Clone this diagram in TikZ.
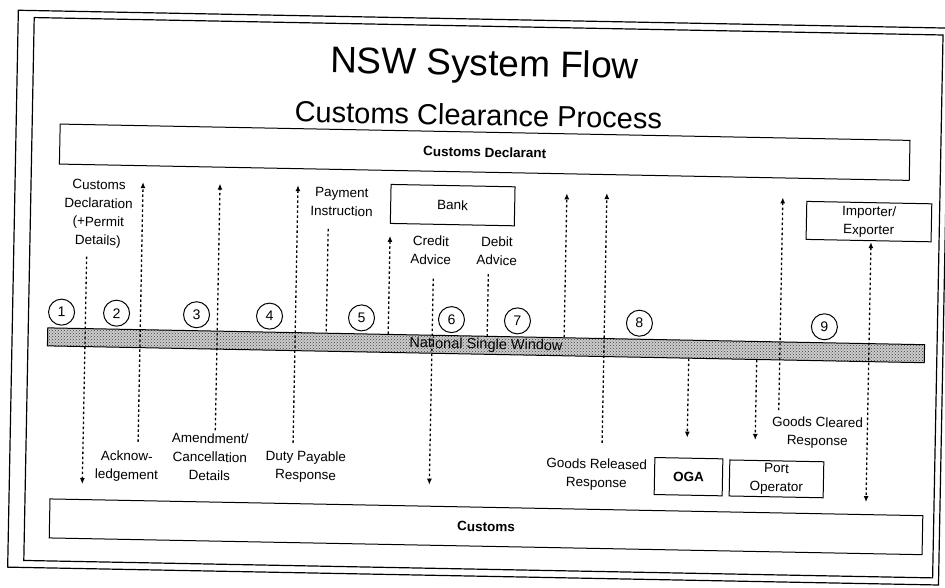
\documentclass[tikz,border=0pt]{standalone}
\usepackage{fontspec}
\setmainfont{Liberation Sans}
\usetikzlibrary{arrows.meta,positioning,patterns}
\newcommand\flowfont{\fontsize{13.5}{18.5}\selectfont}

\begin{document}
\begin{tikzpicture}[x=1pt, y=-1pt, every node/.style={font=\flowfont, inner sep=0pt}, box/.style={draw, line width=1pt, align=center, fill=white}, hbox/.style={box, font=\flowfont\bfseries}, bar/.style={draw, line width=1pt, preaction={fill=gray!40}, pattern=crosshatch dots, pattern color=black!75, font=\fontsize{14.5}{16}\selectfont}, num/.style={draw, circle, line width=1pt, minimum size=26pt, font=\fontsize{14}{16}\selectfont}, lbl/.style={align=center}, link/.style={dash pattern=on 2.5pt off 2.5pt, line width=1.3pt}, arrow/.style={link, -{Latex[length=6pt,width=5pt]}}, twoway/.style={link, {Latex[length=6pt,width=5pt]}-{Latex[length=6pt,width=5pt]}}]
\fill[white] (0,0) rectangle (945,587);
\useasboundingbox (0,0) rectangle (945,587);
\begin{scope}[rotate around={-1.1:(472,293)}, transform shape]
% frame
\draw[line width=1.2pt] (13,19) rectangle (944,576);
\draw[line width=1.2pt] (29,26) rectangle (938,569);
\node (title) at (480,66) {\fontsize{37}{40}\selectfont NSW System Flow};
\node (subtitle) at (475,115) {\fontsize{29}{32}\selectfont Customs Clearance Process};
% parties
\node[hbox, minimum width=850pt, minimum height=40pt] (decl) at (482,152) {Customs Declarant};
\node[box, minimum width=124pt, minimum height=39pt] (bank) at (451,205.5) {Bank};
\node[box, minimum width=125pt, minimum height=38pt] (importer) at (867.5,214) {Importer/\\Exporter};
\node[bar, minimum width=877pt, minimum height=18pt] (nsw) at (487,345) {National Single Window};
\node[hbox, minimum width=68pt, minimum height=37pt] (oga) at (692,472.5) {OGA};
\node[box, minimum width=94pt, minimum height=36pt] (port) at (780,473) {Port\\Operator};
\node[hbox, minimum width=873pt, minimum height=39pt] (customs) at (490.5,526.5) {Customs};
% steps
\foreach \n/\x in {1/62,2/117,3/197,4/270,5/362,6/452,7/518,8/640,9/825}
  \node[num] (c\n) at (\x,320) {\n};
% messages
\node[lbl] (lblDecl) at (97,221) {Customs\\Declaration\\(+Permit\\Details)};
\node[lbl] (lblPay) at (340,204.5) {Payment\\Instruction};
\node[lbl] (lblCredit) at (430,251) {Credit\\Advice};
\node[lbl] (lblDebit) at (496,250.5) {Debit\\Advice};
\node[lbl] (lblAck) at (130,473) {Acknow-\\ledgement};
\node[lbl] (lblAmend) at (213,462) {Amendment/\\Cancellation\\Details};
\node[lbl] (lblDuty) at (309,470) {Duty Payable\\Response};
\node[lbl] (lblRel) at (600,472) {Goods Released\\Response};
\node[lbl] (lblClr) at (820,426) {Goods Cleared\\Response};
\foreach \name/\x in {xa/86,xb/141,xc/218,xd/296,xpay/327,xbank/389,xcred/433,xdeb/488,xrela/565,xrelb/605,xoga/690,xport/758,xclr/781,ximp/870}
  \coordinate (\name) at (\x,0);
\draw[arrow, shorten <=9pt, shorten >=15pt] (xa |- lblDecl.south) -- (xa |- customs.north);
\draw[arrow, shorten <=9pt, shorten >=16pt] (xb |- lblAck.north) -- (xb |- decl.south);
\draw[arrow, shorten <=3pt, shorten >=16pt] (xc |- lblAmend.north) -- (xc |- decl.south);
\draw[arrow, shorten <=8pt, shorten >=16pt] (xd |- lblDuty.north) -- (xd |- decl.south);
\draw[link, shorten <=13pt] (xpay |- lblPay.south) -- (xpay |- nsw.north);
\draw[arrow, shorten >=12pt] (xbank |- nsw.north) -- (xbank |- bank.south);
\draw[arrow, shorten <=14pt, shorten >=21pt] (xcred |- lblCredit.south) -- (xcred |- customs.north);
\draw[link, shorten <=9pt] (xdeb |- lblDebit.south) -- (xdeb |- nsw.north);
\draw[arrow, shorten >=19pt] (xrela |- nsw.north) -- (xrela |- decl.south);
\draw[arrow, shorten <=16pt, shorten >=18pt] (xrelb |- lblRel.north) -- (xrelb |- decl.south);
\draw[arrow, shorten >=20pt] (xoga |- nsw.south) -- (xoga |- oga.north);
\draw[arrow, shorten >=20pt] (xport |- nsw.south) -- (xport |- port.north);
\draw[arrow, shorten <=6pt, shorten >=19pt] (xclr |- lblClr.north) -- (xclr |- decl.south);
\draw[twoway, shorten <=1pt, shorten >=12pt] (ximp |- importer.south) -- (ximp |- customs.north);
\end{scope}
\end{tikzpicture}
\end{document}
